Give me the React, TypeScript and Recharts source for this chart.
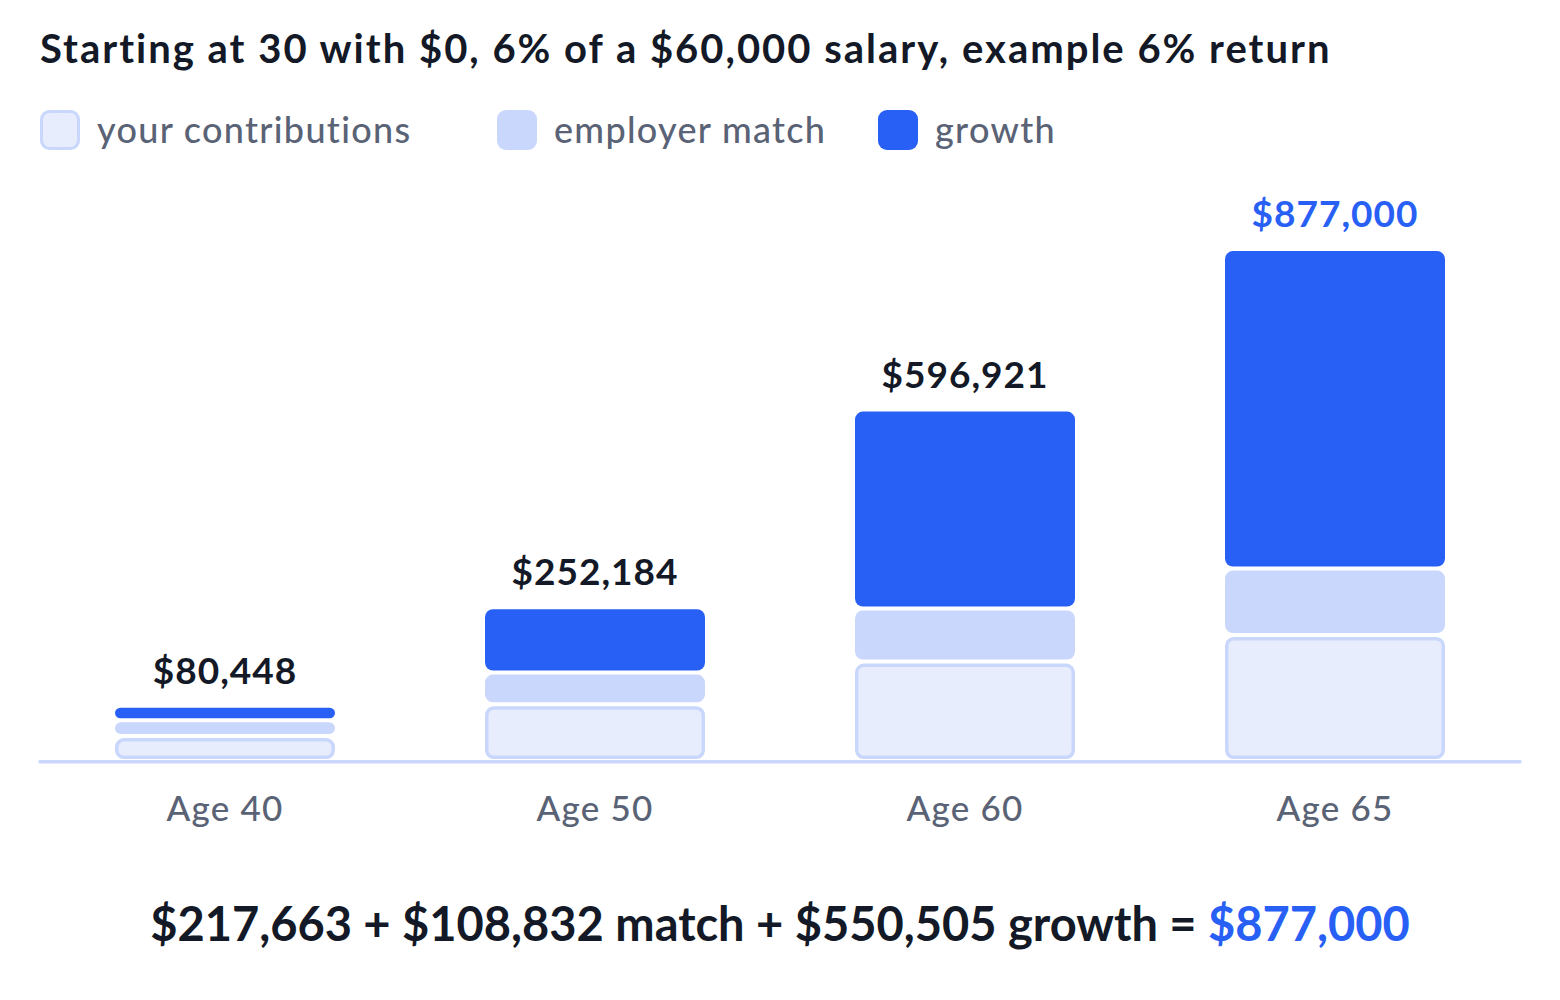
import { BarChart, Bar, XAxis, YAxis } from "recharts"

const ages = ["Age 40", "Age 50", "Age 60", "Age 65"]
const contributions = [41270, 96734, 171271, 217663]
const match = [20635, 48367, 85635, 108832]
const growth = [18543, 107083, 340015, 550505]

const legendItems = ["your contributions", "employer match", "growth"]

const BLUE = "#2860F6"
const PALE = "#CAD7FD"
const PALEST = "#E7EDFD"
const DARK = "#131926"
const GRAY = "#5A6376"
const FONT = "Lato, 'Noto Sans', sans-serif"
const GAP = 4

const fmt = (n: number) => "$" + n.toLocaleString("en-US")

const data = ages.map((age, i) => ({
  age,
  contributions: contributions[i],
  match: match[i],
  growth: growth[i],
  total: contributions[i] + match[i] + growth[i],
}))

// each stacked piece is lifted by GAP per level so the pieces sit apart
const Segment = (props: any) => {
  const { x, y, width, height, level, index, payload } = props
  if (!height || height <= 0) return null
  if (level === 0) {
    const sw = 3.5
    const h = height - 2.75
    return (
      <rect x={x + sw / 2} y={y + sw / 2} width={width - sw} height={Math.max(h - sw, 1)}
        rx={Math.min(7, (h - sw) / 2)} fill={PALEST} stroke={PALE} strokeWidth={sw} />
    )
  }
  const top = y - level * GAP
  const rx = Math.min(8, height / 2)
  return (
    <g>
      <rect x={x} y={top} width={width} height={height} rx={rx} fill={level === 1 ? PALE : BLUE} />
      {level === 2 && (
        <text x={x + width / 2} y={top - 24} textAnchor="middle" fontFamily={FONT} fontWeight={700}
          fontSize={37} letterSpacing={1} fill={index === data.length - 1 ? BLUE : DARK}>
          {fmt(payload.total)}
        </text>
      )}
    </g>
  )
}

const AgeTick = ({ x, y, payload }: any) => (
  <text x={x} y={y + 51} textAnchor="middle" fontFamily={FONT} fontWeight={500} fontSize={35}
    letterSpacing={1.2} fill={GRAY}>
    {payload.value}
  </text>
)

export default function App() {
  const last = data[data.length - 1]
  const legendX = [40, 497, 878]
  return (
    <div style={{ position: "absolute", left: 0, top: 0, width: 1560, height: 1000, background: "#fff" }}>
      <BarChart width={1560} height={1000} data={data} barSize={220}
        margin={{ top: 188.6, right: 40, bottom: 178.25, left: 40 }}>
        <YAxis hide domain={[0, 1000000]} />
        <XAxis dataKey="age" height={60} tickLine={false} tick={<AgeTick />}
          axisLine={{ stroke: PALE, strokeWidth: 3.5, strokeLinecap: "round" }} />
        <Bar dataKey="contributions" stackId="a" isAnimationActive={false}
          shape={(p: any) => <Segment {...p} level={0} />} />
        <Bar dataKey="match" stackId="a" isAnimationActive={false}
          shape={(p: any) => <Segment {...p} level={1} />} />
        <Bar dataKey="growth" stackId="a" isAnimationActive={false}
          shape={(p: any) => <Segment {...p} level={2} />} />
      </BarChart>
      <svg width={1560} height={1000} style={{ position: "absolute", left: 0, top: 0, pointerEvents: "none" }}>
        <text x={40} y={63} fontFamily={FONT} fontWeight={700} fontSize={40} letterSpacing={2} fill={DARK}>
          Starting at 30 with $0, 6% of a $60,000 salary, example 6% return
        </text>
        {legendItems.map((label, i) => (
          <g key={label}>
            {i === 0 ? (
              <rect x={legendX[i] + 1.5} y={111.5} width={37} height={37} rx={8} fill={PALEST} stroke={PALE} strokeWidth={3} />
            ) : (
              <rect x={legendX[i]} y={110} width={40} height={40} rx={9} fill={i === 1 ? PALE : BLUE} />
            )}
            <text x={legendX[i] + 57} y={143} fontFamily={FONT} fontWeight={500} fontSize={36}
              letterSpacing={1.3} fill={GRAY}>
              {label}
            </text>
          </g>
        ))}
        <text x={780} y={941} textAnchor="middle" fontFamily={FONT} fontWeight={700} fontSize={47} fill={DARK}>
          {`${fmt(last.contributions)} + ${fmt(last.match)} match + ${fmt(last.growth)} growth = `}
          <tspan fill={BLUE}>{fmt(last.total)}</tspan>
        </text>
      </svg>
    </div>
  )
}
